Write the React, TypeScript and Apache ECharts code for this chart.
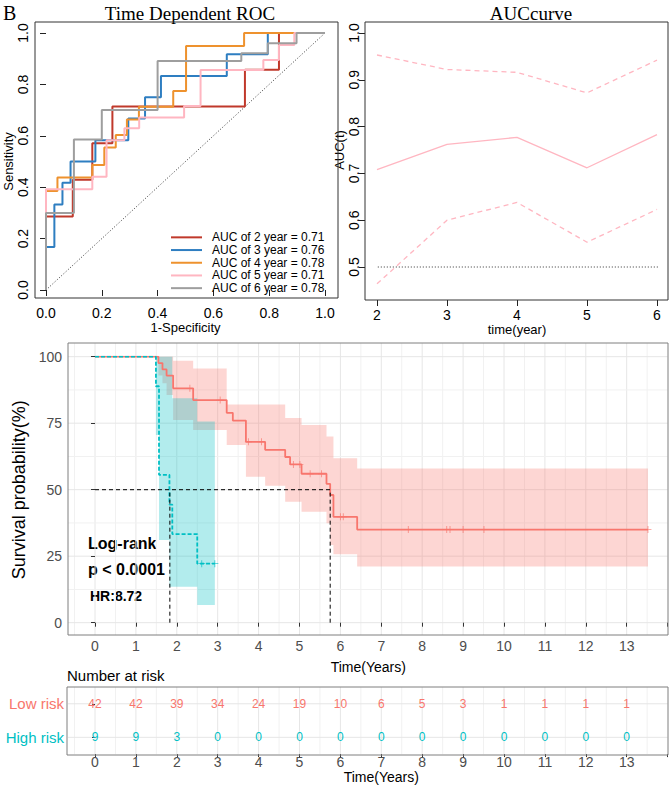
import React, { useEffect, useRef } from 'react';
import * as echarts from 'echarts';

// ---------------- ROC curves: vertices [1-Specificity, Sensitivity] ----------------
const roc2 = [[0, 0], [0, 0.286], [0.096, 0.286], [0.096, 0.429], [0.166, 0.429], [0.166, 0.571], [0.238, 0.571], [0.238, 0.714], [0.713, 0.714], [0.713, 0.857], [0.835, 0.857], [0.835, 1], [1, 1]];
const roc3 = [[0, 0], [0, 0.167], [0.03, 0.167], [0.03, 0.333], [0.059, 0.333], [0.059, 0.417], [0.088, 0.417], [0.088, 0.5], [0.177, 0.5], [0.177, 0.583], [0.295, 0.583], [0.295, 0.667], [0.355, 0.667], [0.355, 0.75], [0.412, 0.75], [0.412, 0.833], [0.648, 0.833], [0.648, 0.917], [0.795, 0.917], [0.795, 1], [1, 1]];
const roc4 = [[0, 0], [0, 0.385], [0.041, 0.385], [0.041, 0.438], [0.166, 0.438], [0.166, 0.486], [0.209, 0.486], [0.209, 0.554], [0.25, 0.554], [0.25, 0.603], [0.29, 0.603], [0.29, 0.663], [0.333, 0.663], [0.333, 0.713], [0.456, 0.713], [0.456, 0.774], [0.502, 0.774], [0.502, 0.949], [0.71, 0.949], [0.71, 1], [1, 1]];
const roc5 = [[0, 0], [0, 0.392], [0.166, 0.392], [0.166, 0.441], [0.217, 0.441], [0.217, 0.583], [0.281, 0.583], [0.281, 0.629], [0.334, 0.629], [0.334, 0.671], [0.495, 0.671], [0.495, 0.716], [0.554, 0.716], [0.554, 0.856], [0.779, 0.856], [0.779, 0.895], [0.835, 0.895], [0.835, 0.953], [0.89, 0.953], [0.89, 1], [1, 1]];
const roc6 = [[0, 0], [0, 0.3], [0.1, 0.3], [0.1, 0.586], [0.2, 0.586], [0.2, 0.7], [0.4, 0.7], [0.4, 0.891], [0.7, 0.891], [0.7, 0.921], [0.795, 0.921], [0.795, 0.96], [0.898, 0.96], [0.898, 1], [1, 1]];
const rocCurves = [roc2, roc3, roc4, roc5, roc6];
const rocNames = ['AUC of 2 year = 0.71', 'AUC of 3 year = 0.76', 'AUC of 4 year = 0.78', 'AUC of 5 year = 0.71', 'AUC of 6 year = 0.78'];
const rocDiagonal = [[-0.04, -0.04], [1.04, 1.04]];

// ---------------- AUC curve ----------------
const aucYears = [2, 3, 4, 5, 6];
const aucValues = [0.708, 0.762, 0.777, 0.712, 0.783];
const aucUpper = [0.953, 0.922, 0.916, 0.872, 0.942];
const aucLower = [0.464, 0.6, 0.638, 0.553, 0.623];
const aucReference = 0.5;
const aucXRange = [1.84, 6.16];

// ---------------- Kaplan-Meier ----------------
const lowTimes = [0, 1.55, 1.65, 1.75, 1.91, 2.4, 3.22, 3.37, 3.69, 4.16, 4.65, 4.77, 5.05, 5.66, 5.75, 5.83, 6.41, 13.52];
const lowSurv = [100, 97.6, 95.2, 92.9, 88.1, 83.7, 78.9, 76.0, 68.0, 65.0, 62.3, 59.5, 56.0, 52.2, 48.0, 39.8, 35.0, 35.0];
const lowUpper = [100, 100, 100, 100, 98.5, 95.6, 82, 82, 82, 82, 77, 77, 74.3, 70, 70, 61.8, 58.0];
const lowLower = [100, 92.9, 90, 85.6, 76.2, 72.4, 66.8, 66.8, 54.9, 51.5, 45.5, 45.5, 41.7, 37.4, 29.2, 25.7, 21.1];
const lowCensor = [2.32, 3.06, 3.75, 4.07, 4.85, 5.01, 5.26, 5.54, 6.0, 6.07, 7.66, 8.6, 8.68, 9.0, 9.51, 13.52];

const highTimes = [0, 1.49, 1.565, 1.82, 1.89, 2.5, 2.93];
const highSurv = [100, 88.9, 55.6, 44.4, 33.3, 22.2, 22.2];
const highUpper = [100, 100, 100, 100, 84.4, 75.6];
const highLower = [100, 70.6, 31.1, 13.5, 13.5, 6.7];
const highCensor = [2.61, 2.93];

const medianSurvival = 50;
const medianTimes = [1.83, 5.75];

const kmXMajor = [0, 1, 2, 3, 4, 5, 6, 7, 8, 9, 10, 11, 12, 13];
const kmXMinor = [-0.5, 0.5, 1.5, 2.5, 3.5, 4.5, 5.5, 6.5, 7.5, 8.5, 9.5, 10.5, 11.5, 12.5, 13.5];
const kmYMajor = [0, 25, 50, 75, 100];
const kmYMinor = [12.5, 37.5, 62.5, 87.5];
const kmXRange = [-0.66, 14.0];
const kmYRange = [-4.6, 105.1];

// ---------------- Number at risk ----------------
const riskTimes = [0, 1, 2, 3, 4, 5, 6, 7, 8, 9, 10, 11, 12, 13];
const lowRisk = [42, 42, 39, 34, 24, 19, 10, 6, 5, 3, 1, 1, 1, 1];
const highRisk = [9, 9, 3, 0, 0, 0, 0, 0, 0, 0, 0, 0, 0, 0];
const riskGroups = ['High risk', 'Low risk'];

const FONT = '"Liberation Sans", Arial, Helvetica, sans-serif';
const SERIF = '"Liberation Serif", "Times New Roman", serif';
const ROC_COLORS = ['#C0392B', '#2E7EC1', '#EE922E', '#FFB6C1', '#9E9E9E'];
const RED = '#F8766D';
const CYAN = '#00BFC4';

function stepAt(times: number[], vals: number[], t: number) {
  let v = vals[0];
  for (let i = 0; i < times.length; i++) if (times[i] <= t) v = vals[i];
  return v;
}

function bandSeries(times: number[], upper: number[], lower: number[], fill: string) {
  return {
    type: 'custom', xAxisIndex: 2, yAxisIndex: 2, silent: true, z: 1,
    data: [[times[0], upper[0]]],
    renderItem: (params: any, api: any) => {
      const pts: number[][] = [];
      for (let k = 0; k < upper.length; k++) {
        pts.push(api.coord([times[k], upper[k]]));
        pts.push(api.coord([times[k + 1], upper[k]]));
      }
      for (let k = lower.length - 1; k >= 0; k--) {
        pts.push(api.coord([times[k + 1], lower[k]]));
        pts.push(api.coord([times[k], lower[k]]));
      }
      return { type: 'polygon', shape: { points: pts }, style: { fill } };
    },
  };
}

function gridLineSeries(idx: number, vMajor: number[], vMinor: number[], hMajor: number[], hMinor: number[], xr: number[], yr: number[] | null) {
  const data = [
    ...vMajor.map((v) => [v, 0, 1]),
    ...vMinor.map((v) => [v, 0, 0]),
    ...hMajor.map((v) => [v, 1, 1]),
    ...hMinor.map((v) => [v, 1, 0]),
  ];
  return {
    type: 'custom', xAxisIndex: idx, yAxisIndex: idx, silent: true, z: 0,
    data,
    renderItem: (params: any, api: any) => {
      const pos = api.value(0);
      const orient = api.value(1);
      const major = api.value(2);
      let x1, y1, x2, y2;
      if (orient === 0) {
        const cs = params.coordSys;
        const p = api.coord([pos, yr ? yr[0] : 0]);
        x1 = p[0]; x2 = p[0];
        if (yr) {
          y1 = api.coord([pos, yr[0]])[1];
          y2 = api.coord([pos, yr[1]])[1];
        } else {
          y1 = cs.y; y2 = cs.y + cs.height;
        }
      } else {
        const a = api.coord([xr[0], pos]);
        const b = api.coord([xr[1], pos]);
        x1 = a[0]; y1 = a[1]; x2 = b[0]; y2 = b[1];
      }
      return {
        type: 'line',
        shape: { x1, y1, x2, y2 },
        style: { stroke: major ? '#E6E6E6' : '#F1F1F1', lineWidth: 1 },
      };
    },
  };
}

function riskTextSeries(row: number, counts: number[], color: string) {
  return {
    type: 'custom', xAxisIndex: 3, yAxisIndex: 3, silent: true, z: 3,
    data: riskTimes.map((t, i) => [t, row, counts[i]]),
    renderItem: (params: any, api: any) => {
      const p = api.coord([api.value(0), api.value(1)]);
      return {
        type: 'text',
        x: p[0], y: p[1],
        style: {
          text: String(api.value(2)), fill: color,
          align: 'center', verticalAlign: 'middle',
          textAlign: 'center', textVerticalAlign: 'middle',
          fontSize: 12, fontFamily: FONT,
        },
      };
    },
  };
}

function textEl(text: string, x: number, y: number, font: string, align = 'left', fill = '#000') {
  return {
    type: 'text', x, y, silent: true,
    style: { text, font, fill, align, verticalAlign: 'middle', textAlign: align, textVerticalAlign: 'middle' },
  };
}

function boxEl(x: number, y: number, w: number, h: number, stroke: string) {
  return { type: 'rect', shape: { x, y, width: w, height: h }, silent: true, z: 10, style: { fill: 'none', stroke, lineWidth: 1 } };
}

export default function App() {
  const ref = useRef<HTMLDivElement>(null);
  useEffect(() => {
    if (!ref.current) return;
    const chart = echarts.init(ref.current, undefined, { renderer: 'svg' });

    const baseTickAxis = {
      axisLine: { show: false },
      splitLine: { show: false },
    };

    const rocSeries = rocCurves.map((c, i) => ({
      name: rocNames[i], type: 'line', xAxisIndex: 0, yAxisIndex: 0,
      data: c, showSymbol: false, color: ROC_COLORS[i],
      lineStyle: { color: ROC_COLORS[i], width: 2 }, z: 3 + i,
    }));

    const medianSeries = [
      {
        type: 'line', xAxisIndex: 2, yAxisIndex: 2, showSymbol: false, silent: true, z: 6,
        data: [[0, medianSurvival], [Math.max(...medianTimes), medianSurvival]],
        lineStyle: { color: '#000', width: 1, type: [4, 3] },
      },
      ...medianTimes.map((m) => ({
        type: 'line', xAxisIndex: 2, yAxisIndex: 2, showSymbol: false, silent: true, z: 6,
        data: [[m, 0], [m, medianSurvival]],
        lineStyle: { color: '#000', width: 1, type: [4, 3] },
      })),
    ];

    const plusPath = 'path://M0,4.4H10V5.6H0Z M4.4,0H5.6V10H4.4Z';

    const option: any = {
      animation: false,
      textStyle: { fontFamily: FONT },
      grid: [
        { left: 46, top: 33, width: 279, height: 257 },
        { left: 377, top: 33, width: 280, height: 234 },
        { left: 95, top: 356.7, width: 572.6, height: 266 },
        { left: 95, top: 687, width: 572.6, height: 68 },
      ],
      legend: {
        data: rocNames, orient: 'vertical', left: 166, top: 226,
        itemWidth: 31, itemHeight: 2, itemGap: 0, icon: 'rect', selectedMode: false,
        textStyle: { fontSize: 12, lineHeight: 12.7, color: '#000', fontFamily: FONT, padding: [0, 0, 0, 5] },
      },
      xAxis: [
        {
          ...baseTickAxis, gridIndex: 0, type: 'value', min: 0, max: 1, interval: 0.2, offset: 8,
          axisTick: { show: true, length: 6, lineStyle: { color: '#222' } },
          axisLabel: { fontSize: 14, color: '#000', margin: 8, formatter: (v: number) => v.toFixed(1) },
          name: '1-Specificity', nameLocation: 'middle', nameGap: 15,
          nameTextStyle: { fontSize: 13, color: '#000' },
        },
        {
          ...baseTickAxis, gridIndex: 1, type: 'value', min: 2, max: 6, interval: 1, offset: 33,
          axisTick: { show: true, length: 6, lineStyle: { color: '#222' } },
          axisLabel: { fontSize: 14, color: '#000', margin: 8 },
          name: 'time(year)', nameLocation: 'middle', nameGap: 15,
          nameTextStyle: { fontSize: 13, color: '#000' },
        },
        {
          ...baseTickAxis, gridIndex: 2, type: 'value', min: 0, max: 14, interval: 1, offset: 12.3,
          axisTick: { show: true, length: 4, lineStyle: { color: '#333' } },
          axisLabel: { fontSize: 14, color: '#4D4D4D', margin: 4, formatter: (v: number) => (v > 13 ? '' : String(v)) },
          name: 'Time(Years)', nameLocation: 'middle', nameGap: 25,
          nameTextStyle: { fontSize: 14, color: '#000', padding: [0, 26, 0, 0] },
        },
        {
          ...baseTickAxis, gridIndex: 3, type: 'value', min: 0, max: 14, interval: 1, offset: 0,
          axisTick: { show: true, length: 3, lineStyle: { color: '#333' } },
          axisLabel: { fontSize: 14, color: '#4D4D4D', margin: 1, formatter: (v: number) => (v > 13 ? '' : String(v)) },
          name: 'Time(Years)', nameLocation: 'middle', nameGap: 9,
          nameTextStyle: { fontSize: 14, color: '#000' },
        },
      ],
      yAxis: [
        {
          ...baseTickAxis, gridIndex: 0, type: 'value', min: 0, max: 1, interval: 0.2, offset: 11,
          axisTick: { show: true, length: 6, lineStyle: { color: '#222' } },
          axisLabel: { fontSize: 14, color: '#000', margin: 5, rotate: 90, formatter: (v: number) => v.toFixed(1) },
          name: 'Sensitivity', nameLocation: 'middle', nameRotate: 90, nameGap: 17,
          nameTextStyle: { fontSize: 13, color: '#000' },
        },
        {
          ...baseTickAxis, gridIndex: 1, type: 'value', min: 0.5, max: 1, interval: 0.1, offset: 12,
          axisTick: { show: true, length: 6, lineStyle: { color: '#222' } },
          axisLabel: { fontSize: 14, color: '#000', margin: 4, rotate: 90, formatter: (v: number) => v.toFixed(1) },
          name: 'AUC(t)', nameLocation: 'middle', nameRotate: 90, nameGap: 18,
          nameTextStyle: { fontSize: 13, color: '#000' },
        },
        {
          ...baseTickAxis, gridIndex: 2, type: 'value', min: 0, max: 100, interval: 25, offset: 27,
          axisTick: { show: true, length: 4, lineStyle: { color: '#333' } },
          axisLabel: { fontSize: 14, color: '#4D4D4D', margin: 6 },
          name: 'Survival probability(%)', nameLocation: 'middle', nameRotate: 90, nameGap: 24,
          nameTextStyle: { fontSize: 18, color: '#000' },
        },
        {
          ...baseTickAxis, gridIndex: 3, type: 'category', data: riskGroups, offset: 28,
          axisTick: { show: true, length: 3, alignWithLabel: true, lineStyle: { color: '#333' } },
          axisLabel: {
            margin: 3,
            formatter: (v: string) => (v === 'Low risk' ? '{low|' + v + '}' : '{high|' + v + '}'),
            rich: {
              low: { color: RED, fontSize: 15, fontFamily: FONT },
              high: { color: CYAN, fontSize: 15, fontFamily: FONT },
            },
          },
        },
      ],
      series: [
        // ROC
        {
          type: 'line', xAxisIndex: 0, yAxisIndex: 0, data: rocDiagonal, showSymbol: false, silent: true,
          clip: false, lineStyle: { color: '#333', width: 1, type: [1, 2] }, z: 2,
        },
        ...rocSeries,
        // AUC
        {
          type: 'line', xAxisIndex: 1, yAxisIndex: 1, showSymbol: false, silent: true, clip: false,
          data: aucXRange.map((x) => [x, aucReference]),
          lineStyle: { color: '#333', width: 1, type: [1, 2] }, z: 2,
        },
        {
          type: 'line', xAxisIndex: 1, yAxisIndex: 1, showSymbol: false, silent: true,
          data: aucYears.map((y, i) => [y, aucValues[i]]),
          lineStyle: { color: '#FFB6C1', width: 1.3 }, z: 3,
        },
        {
          type: 'line', xAxisIndex: 1, yAxisIndex: 1, showSymbol: false, silent: true, clip: false,
          data: aucYears.map((y, i) => [y, aucUpper[i]]),
          lineStyle: { color: '#FFB6C1', width: 1.3, type: [5, 4] }, z: 3,
        },
        {
          type: 'line', xAxisIndex: 1, yAxisIndex: 1, showSymbol: false, silent: true, clip: false,
          data: aucYears.map((y, i) => [y, aucLower[i]]),
          lineStyle: { color: '#FFB6C1', width: 1.3, type: [5, 4] }, z: 3,
        },
        // KM gridlines
        gridLineSeries(2, kmXMajor, kmXMinor, kmYMajor, kmYMinor, kmXRange, kmYRange),
        // KM bands
        bandSeries(lowTimes, lowUpper, lowLower, 'rgba(248,118,109,0.3)'),
        bandSeries(highTimes, highUpper, highLower, 'rgba(0,191,196,0.3)'),
        // KM curves
        {
          type: 'line', xAxisIndex: 2, yAxisIndex: 2, step: 'end', showSymbol: false, silent: true,
          data: lowTimes.map((t, i) => [t, lowSurv[i]]),
          lineStyle: { color: RED, width: 1.8 }, z: 4,
        },
        {
          type: 'line', xAxisIndex: 2, yAxisIndex: 2, step: 'end', showSymbol: false, silent: true,
          data: highTimes.map((t, i) => [t, highSurv[i]]),
          lineStyle: { color: CYAN, width: 1.8, type: [4, 2] }, z: 4,
        },
        {
          type: 'scatter', xAxisIndex: 2, yAxisIndex: 2, silent: true, symbol: plusPath, symbolSize: 7,
          data: lowCensor.map((t) => [t, stepAt(lowTimes, lowSurv, t)]),
          itemStyle: { color: RED }, z: 5,
        },
        {
          type: 'scatter', xAxisIndex: 2, yAxisIndex: 2, silent: true, symbol: plusPath, symbolSize: 7,
          data: highCensor.map((t) => [t, stepAt(highTimes, highSurv, t)]),
          itemStyle: { color: CYAN }, z: 5,
        },
        ...medianSeries,
        // Risk table
        gridLineSeries(3, kmXMajor, kmXMinor, [0, 1], [], kmXRange, null),
        riskTextSeries(1, lowRisk, RED),
        riskTextSeries(0, highRisk, CYAN),
      ],
      graphic: [
        textEl('B', 3, 13, '20px ' + SERIF),
        textEl('Time Dependent ROC', 190, 13, '19px ' + SERIF, 'center'),
        textEl('AUCcurve', 531, 13, '19px ' + SERIF, 'center'),
        boxEl(35, 22, 303, 276, '#333'),
        boxEl(365, 22, 303, 278, '#333'),
        boxEl(68, 343, 600, 292, '#7F7F7F'),
        boxEl(67, 687, 601, 68, '#7F7F7F'),
        textEl('Log-rank', 88, 543, 'bold 16px ' + FONT),
        textEl('p < 0.0001', 88, 569, 'bold 16px ' + FONT),
        textEl('HR:8.72', 90, 596, 'bold 14px ' + FONT),
        textEl('Number at risk', 67, 675, '15px ' + FONT),
      ],
    };

    chart.setOption(option);
    return () => chart.dispose();
  }, []);

  return <div ref={ref} style={{ position: 'absolute', left: 0, top: 0, width: 672, height: 785 }} />;
}
